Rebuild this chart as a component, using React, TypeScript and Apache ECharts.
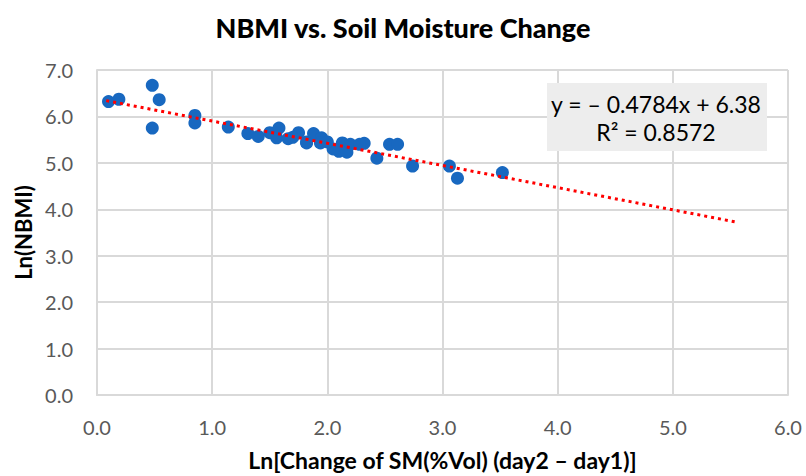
import React, { useEffect, useRef } from "react";
import * as echarts from "echarts";

const xValues = [0.10, 0.19, 0.48, 0.54, 0.48, 0.85, 0.85, 1.14, 1.31, 1.40, 1.50, 1.58, 1.56, 1.66, 1.75, 1.82, 1.88, 1.95, 1.82, 1.94, 2.13, 2.10, 2.17, 2.20, 2.32, 2.28, 2.43, 2.54, 2.61, 2.74, 3.06, 3.13, 3.52, 1.70, 2.05, 2.00];
const yValues = [6.32, 6.37, 6.67, 6.36, 5.75, 6.02, 5.86, 5.77, 5.63, 5.57, 5.65, 5.75, 5.54, 5.52, 5.65, 5.45, 5.63, 5.54, 5.43, 5.43, 5.43, 5.25, 5.23, 5.40, 5.42, 5.40, 5.10, 5.40, 5.40, 4.93, 4.93, 4.67, 4.79, 5.55, 5.30, 5.45];
const trendX = [0.08, 5.55];
const trendY = [6.34, 3.725];
const equationLines = ["y = \u2013 0.4784x + 6.38", "R\u00b2 = 0.8572"];
const xTicks = { min: 0, max: 6, interval: 1 };
const yTicks = { min: 0, max: 7, interval: 1 };

const FONT = "Lato, 'Noto Sans', sans-serif";

export default function App() {
  const ref = useRef<HTMLDivElement>(null);
  useEffect(() => {
    document.body.style.margin = "0";
    if (!ref.current) return;
    const chart = echarts.init(ref.current, undefined, { renderer: "svg" });
    const points = xValues.map((x, i) => [x, yValues[i]]);
    const trend = trendX.map((x, i) => [x, trendY[i]]);
    chart.setOption({
      animation: false,
      backgroundColor: "#ffffff",
      textStyle: { fontFamily: FONT },
      title: {
        text: "NBMI vs. Soil Moisture Change",
        left: "center",
        top: 9,
        textStyle: { fontFamily: FONT, fontWeight: 900, fontSize: 27, color: "#000000" },
      },
      grid: { left: 97, right: 18, top: 70, bottom: 80 },
      xAxis: {
        type: "value",
        min: xTicks.min,
        max: xTicks.max,
        interval: xTicks.interval,
        name: "Ln[Change of SM(%Vol) (day2 \u2013 day1)]",
        nameLocation: "middle",
        nameGap: 53,
        nameTextStyle: { fontFamily: FONT, fontWeight: "bold", fontSize: 23, color: "#000000" },
        axisLine: { show: true, lineStyle: { color: "#d9d9d9", width: 2 } },
        axisTick: { show: false },
        splitLine: { show: true, lineStyle: { color: "#d9d9d9", width: 2 } },
        axisLabel: { fontFamily: FONT, fontSize: 20, color: "#595959", margin: 22, formatter: (v: number) => v.toFixed(1) },
      },
      yAxis: {
        type: "value",
        min: yTicks.min,
        max: yTicks.max,
        interval: yTicks.interval,
        name: "Ln(NBMI)",
        nameLocation: "middle",
        nameGap: 59,
        nameTextStyle: { fontFamily: FONT, fontWeight: "bold", fontSize: 22, color: "#000000" },
        axisLine: { show: true, lineStyle: { color: "#d9d9d9", width: 2 } },
        axisTick: { show: false },
        splitLine: { show: true, lineStyle: { color: "#d9d9d9", width: 2 } },
        axisLabel: { fontFamily: FONT, fontSize: 20, color: "#595959", margin: 24, formatter: (v: number) => v.toFixed(1) },
      },
      series: [
        {
          type: "scatter",
          data: points,
          symbolSize: 13,
          itemStyle: { color: "#1868c0", opacity: 1 },
          z: 2,
        },
        {
          type: "line",
          data: trend,
          showSymbol: false,
          symbol: "none",
          lineStyle: { color: "#ff0000", width: 3, type: [3, 4] },
          z: 3,
        },
      ],
      graphic: [
        {
          type: "rect",
          shape: { x: 547, y: 83, width: 220, height: 68 },
          style: { fill: "#ededed" },
          z: 10,
        },
        {
          type: "text",
          x: 656,
          y: 104,
          style: { text: equationLines[0], font: `23px ${FONT}`, fill: "#000000", align: "center", verticalAlign: "middle" },
          z: 11,
        },
        {
          type: "text",
          x: 656,
          y: 132,
          style: { text: equationLines[1], font: `23px ${FONT}`, fill: "#000000", align: "center", verticalAlign: "middle" },
          z: 11,
        },
      ],
    });
    return () => chart.dispose();
  }, []);
  return <div ref={ref} style={{ width: 806, height: 476 }} />;
}
